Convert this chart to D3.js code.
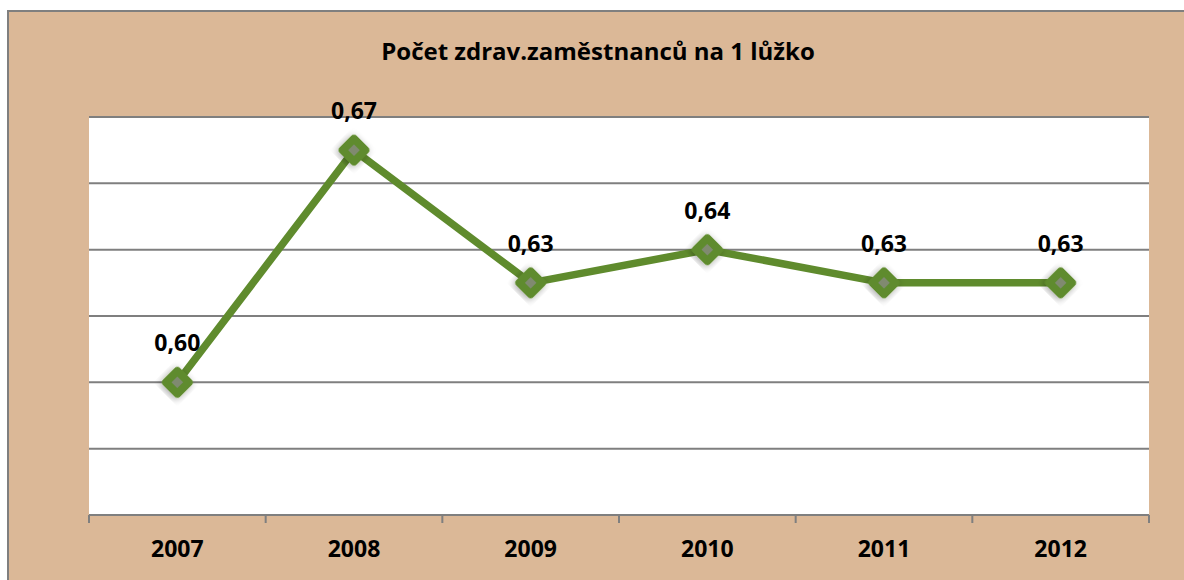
<!DOCTYPE html>
<html>
<head>
<meta charset="utf-8">
<script src="https://cdn.jsdelivr.net/npm/d3@7"></script>
<style>
  body { margin: 0; background: #fff; }
  text { font-family: "Open Sans", Lato, sans-serif; font-weight: bold; fill: #000; }
</style>
</head>
<body>
<div id="chart"></div>
<script>
// data
var years = ["2007", "2008", "2009", "2010", "2011", "2012"];
var values = [0.60, 0.67, 0.63, 0.64, 0.63, 0.63];
var labels = ["0,60", "0,67", "0,63", "0,64", "0,63", "0,63"];
var gridTicks = [0.56, 0.58, 0.60, 0.62, 0.64, 0.66, 0.68];
var title = "Počet zdrav.zaměstnanců na 1 lůžko";

var W = 1184, H = 580;
var margin = {top: 117, right: 35, bottom: 65, left: 89},
    width = W - margin.left - margin.right,
    height = H - margin.top - margin.bottom;

var svg = d3.select("#chart").append("svg")
    .attr("width", W)
    .attr("height", H);

// tan chart background with grey frame
svg.append("rect")
    .attr("x", 8).attr("y", 11)
    .attr("width", W).attr("height", H)
    .attr("fill", "#dbb897")
    .attr("stroke", "#7f7f7f")
    .attr("stroke-width", 2);

svg.append("text")
    .attr("x", 598).attr("y", 60)
    .attr("text-anchor", "middle")
    .attr("font-size", "24px")
    .text(title);

var g = svg.append("g")
    .attr("transform", "translate(" + margin.left + "," + margin.top + ")");

var x = d3.scaleBand().domain(years).range([0, width]);
var y = d3.scaleLinear().domain([0.56, 0.68]).range([height, 0]);

// white plot area
g.append("rect")
    .attr("width", width).attr("height", height)
    .attr("fill", "#fff");

// horizontal gridlines
g.selectAll(".grid")
    .data(gridTicks.slice(1))
    .enter().append("line")
    .attr("x1", 0).attr("x2", width)
    .attr("y1", function(d) { return y(d); })
    .attr("y2", function(d) { return y(d); })
    .attr("stroke", "#7f7f7f")
    .attr("stroke-width", 2);

// x axis with ticks between categories
var xAxis = g.append("g")
    .attr("transform", "translate(0," + height + ")");
xAxis.append("line")
    .attr("x1", 0).attr("x2", width)
    .attr("stroke", "#7f7f7f").attr("stroke-width", 2);
xAxis.selectAll(".tick")
    .data(years.concat(["end"]))
    .enter().append("line")
    .attr("x1", function(d, i) { return i * x.step(); })
    .attr("x2", function(d, i) { return i * x.step(); })
    .attr("y1", 0).attr("y2", 8)
    .attr("stroke", "#7f7f7f").attr("stroke-width", 2);
xAxis.selectAll(".lbl")
    .data(years)
    .enter().append("text")
    .attr("x", function(d) { return x(d) + x.bandwidth() / 2; })
    .attr("y", 42)
    .attr("text-anchor", "middle")
    .attr("font-size", "23px")
    .text(function(d) { return d; });

// drop shadow for markers
var defs = svg.append("defs");
var f = defs.append("filter").attr("id", "shadow")
    .attr("x", "-50%").attr("y", "-50%").attr("width", "200%").attr("height", "200%");
f.append("feDropShadow")
    .attr("dx", 0).attr("dy", 2)
    .attr("stdDeviation", 3.5)
    .attr("flood-color", "#000")
    .attr("flood-opacity", 0.35);

var pts = years.map(function(d, i) { return {year: d, v: values[i], label: labels[i]}; });

var line = d3.line()
    .x(function(d) { return x(d.year) + x.bandwidth() / 2; })
    .y(function(d) { return y(d.v); });

g.append("path")
    .datum(pts)
    .attr("d", line)
    .attr("fill", "none")
    .attr("stroke", "#5f8b2d")
    .attr("stroke-width", 7.5)
    .attr("stroke-linejoin", "round");

var diamond = d3.symbol().type(d3.symbolSquare).size(260);
g.selectAll(".marker")
    .data(pts)
    .enter().append("path")
    .attr("d", diamond)
    .attr("transform", function(d) {
      return "translate(" + (x(d.year) + x.bandwidth() / 2) + "," + y(d.v) + ") rotate(45)";
    })
    .attr("fill", "#808a70")
    .attr("stroke", "#5f8b2d")
    .attr("stroke-width", 8)
    .attr("stroke-linejoin", "round")
    .attr("filter", "url(#shadow)");

g.selectAll(".val")
    .data(pts)
    .enter().append("text")
    .attr("x", function(d) { return x(d.year) + x.bandwidth() / 2; })
    .attr("y", function(d) { return y(d.v) - 31; })
    .attr("text-anchor", "middle")
    .attr("font-size", "23px")
    .text(function(d) { return d.label; });
</script>
</body>
</html>
